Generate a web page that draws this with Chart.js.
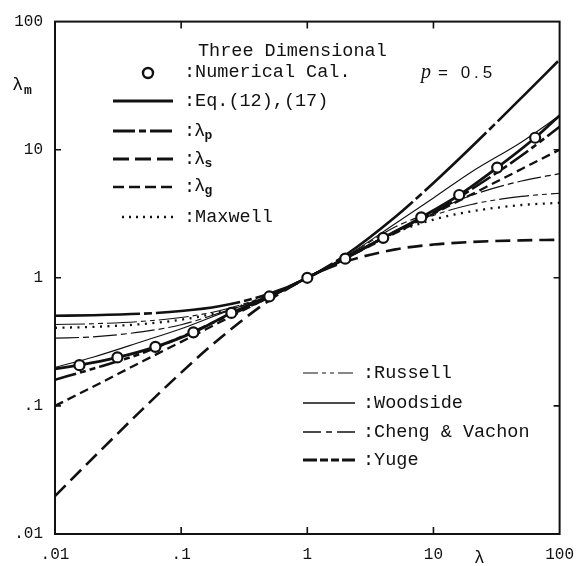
<!DOCTYPE html>
<html>
<head>
<meta charset="utf-8">
<script src="https://cdn.jsdelivr.net/npm/chart.js@4.4.1/dist/chart.umd.min.js"></script>
<style>
html,body{margin:0;padding:0;background:#fff;}
#wrap{width:585px;height:566px;position:relative;}
</style>
</head>
<body>
<div id="wrap"><canvas id="c" width="585" height="566"></canvas></div>
<script>
// ---- data ----
const lambda       = [0.01, 0.02, 0.05, 0.1, 0.2, 0.5, 1, 2, 5, 10, 20, 50, 100];
const lambdaP      = [0.505, 0.51, 0.525, 0.55, 0.6, 0.75, 1, 1.5, 3, 5.5, 10.5, 25.5, 50.5];
const lambdaS      = [0.0198, 0.0392, 0.0952, 0.182, 0.333, 0.667, 1, 1.333, 1.667, 1.818, 1.905, 1.961, 1.98];
const lambdaG      = [0.1, 0.141, 0.224, 0.316, 0.447, 0.707, 1, 1.414, 2.236, 3.162, 4.472, 7.071, 10];
const maxwell      = [0.407, 0.414, 0.436, 0.471, 0.538, 0.727, 1, 1.43, 2.25, 2.85, 3.3, 3.7, 3.85];
const russell      = [0.432, 0.438, 0.458, 0.49, 0.553, 0.733, 1, 1.44, 2.32, 3.07, 3.74, 4.32, 4.57];
const woodside     = [0.2, 0.24, 0.32, 0.4, 0.52, 0.73, 1, 1.46, 2.65, 4.2, 6.7, 11.5, 18.5];
const chengVachon  = [0.338, 0.346, 0.38, 0.43, 0.53, 0.72, 1, 1.45, 2.5, 3.3, 4.4, 5.7, 6.5];
const yuge         = [0.16, 0.195, 0.26, 0.345, 0.47, 0.705, 1, 1.42, 2.3, 3.2, 4.9, 9.0, 15.1];

const eqLambda     = [0.01, 0.015625, 0.03125, 0.0625, 0.125, 0.25, 0.5, 1, 2, 4, 8, 16, 32, 64, 100];
const eqValues     = [0.195, 0.208, 0.239, 0.289, 0.375, 0.532, 0.715, 1, 1.41, 2.05, 2.96, 4.43, 7.25, 12.4, 18.5];

const numLambda    = [0.015625, 0.03125, 0.0625, 0.125, 0.25, 0.5, 1, 2, 4, 8, 16, 32, 64];
const numValues    = [0.208, 0.239, 0.289, 0.375, 0.532, 0.715, 1, 1.41, 2.05, 2.96, 4.43, 7.25, 12.4];

const tickValues   = [0.01, 0.1, 1, 10, 100];
const xTickLabels  = ['.01', '.1', '1', '10', '100'];
const yTickLabels  = ['.01', '.1', '1', '10', '100'];

function pts(xs, ys) { return xs.map((x, i) => ({ x: x, y: ys[i] })); }

const INK = '#111';
function lineDs(label, ys, width, dash, xs) {
  return {
    label: label, data: pts(xs || lambda, ys), showLine: true,
    borderColor: INK, backgroundColor: INK, borderWidth: width, borderDash: dash,
    pointRadius: 0, cubicInterpolationMode: 'monotone', order: 2
  };
}

const datasets = [
  {
    label: 'Numerical Cal.', data: pts(numLambda, numValues), showLine: false,
    pointRadius: 5, pointBorderWidth: 2.2, pointBackgroundColor: '#fff', pointBorderColor: INK, order: 0
  },
  lineDs('Eq.(12),(17)', eqValues, 2.8, [], eqLambda),
  lineDs('λp', lambdaP, 2.6, [85, 4, 8, 4]),
  lineDs('λs', lambdaS, 2.6, [15, 7]),
  lineDs('λg', lambdaG, 2.3, [9, 5]),
  lineDs('Maxwell', maxwell, 2.3, [2, 5.5]),
  lineDs('Russell', russell, 1.1, [30, 4, 5, 4, 5, 4]),
  lineDs('Woodside', woodside, 1.1, []),
  lineDs('Cheng & Vachon', chengVachon, 1.2, [24, 4, 6, 4]),
  lineDs('Yuge', yuge, 2.6, [22, 4, 6, 4, 6, 4])
];

const MONO = '"Liberation Mono", "DejaVu Sans Mono", monospace';

function sample(ctx, x1, x2, y, w, dash) {
  ctx.save();
  ctx.strokeStyle = INK; ctx.lineWidth = w; ctx.setLineDash(dash);
  ctx.beginPath(); ctx.moveTo(x1, y); ctx.lineTo(x2, y); ctx.stroke();
  ctx.restore();
}
function txt(ctx, s, x, y, font) {
  ctx.font = font; ctx.fillText(s, x, y);
}
function sub(ctx, main, subs, x, y) {
  ctx.font = '19px ' + MONO; ctx.fillText(main, x, y);
  const w = ctx.measureText(main).width;
  ctx.font = 'bold 13px ' + MONO; ctx.fillText(subs, x + w - 1, y + 5);
}

const decor = {
  id: 'decor',
  afterDatasetsDraw(chart) {
    const ctx = chart.ctx, a = chart.chartArea;
    const xs = chart.scales.x, ys = chart.scales.y;
    ctx.save();
    // frame
    ctx.strokeStyle = INK; ctx.lineWidth = 2; ctx.setLineDash([]);
    ctx.strokeRect(a.left, a.top, a.right - a.left, a.bottom - a.top);
    // inward tick marks
    ctx.lineWidth = 1.6;
    tickValues.slice(1, -1).forEach(v => {
      const px = xs.getPixelForValue(v), py = ys.getPixelForValue(v);
      ctx.beginPath();
      ctx.moveTo(px, a.bottom); ctx.lineTo(px, a.bottom - 7);
      ctx.moveTo(px, a.top); ctx.lineTo(px, a.top + 7);
      ctx.moveTo(a.left, py); ctx.lineTo(a.left + 6, py);
      ctx.moveTo(a.right, py); ctx.lineTo(a.right - 6, py);
      ctx.stroke();
    });
    // legend (upper left)
    ctx.fillStyle = INK; ctx.textBaseline = 'middle'; ctx.textAlign = 'left';
    const f = '18.5px ' + MONO;
    txt(ctx, 'Three Dimensional', 198, 51, f);
    ctx.beginPath(); ctx.arc(148, 73, 5, 0, Math.PI * 2);
    ctx.fillStyle = '#fff'; ctx.fill(); ctx.lineWidth = 2.4; ctx.strokeStyle = INK; ctx.stroke();
    ctx.fillStyle = INK;
    txt(ctx, ':Numerical Cal.', 184, 72, f);
    sample(ctx, 113, 173, 101, 2.8, []);
    txt(ctx, ':Eq.(12),(17)', 184, 101, f);
    sample(ctx, 113, 173, 131, 2.8, [22, 4, 7, 4]);
    txt(ctx, ':', 184, 131, f); sub(ctx, 'λ', 'p', 194, 131);
    sample(ctx, 113, 173, 159, 2.8, [16, 6]);
    txt(ctx, ':', 184, 159, f); sub(ctx, 'λ', 's', 194, 159);
    sample(ctx, 113, 173, 187, 2.6, [11, 5]);
    txt(ctx, ':', 184, 187, f); sub(ctx, 'λ', 'g', 194, 186);
    sample(ctx, 122, 173, 217, 2.3, [2, 5]);
    txt(ctx, ':Maxwell', 184, 217, f);
    // p = 0.5
    ctx.font = 'italic 20px "Liberation Serif", serif'; ctx.fillText('p', 421, 73);
    ctx.font = '17px "Liberation Sans", sans-serif';
    try { ctx.letterSpacing = '4px'; } catch (e) {}
    ctx.fillText('= 0.5', 438, 73);
    try { ctx.letterSpacing = '0px'; } catch (e) {}
    // legend (lower right)
    sample(ctx, 303, 355, 373, 1.2, [15, 4, 4, 4, 4, 4]);
    txt(ctx, ':Russell', 363, 373, f);
    sample(ctx, 303, 355, 403, 1.3, []);
    txt(ctx, ':Woodside', 363, 403, f);
    sample(ctx, 303, 355, 432, 1.3, [18, 5, 6, 5]);
    txt(ctx, ':Cheng & Vachon', 363, 432, f);
    sample(ctx, 303, 355, 460, 2.8, [14, 3, 8, 3, 8, 3]);
    txt(ctx, ':Yuge', 363, 460, f);
    // axis titles
    ctx.font = '19px ' + MONO; ctx.fillText('λ', 12, 85);
    ctx.font = 'bold 13px ' + MONO; ctx.fillText('m', 24, 91);
    ctx.font = '18px ' + MONO; ctx.fillText('λ', 474, 558);
    ctx.restore();
  }
};

new Chart(document.getElementById('c'), {
  type: 'scatter',
  data: { datasets: datasets },
  options: {
    responsive: false, animation: false, events: [],
    layout: { padding: { top: 19, right: 19, left: 0, bottom: 0 } },
    plugins: { legend: { display: false }, tooltip: { enabled: false } },
    scales: {
      x: {
        type: 'logarithmic', min: 0.01, max: 100,
        afterBuildTicks: s => { s.ticks = tickValues.map(v => ({ value: v })); },
        afterFit: s => { s.height = 32; },
        grid: { display: false, drawTicks: false }, border: { display: false },
        ticks: {
          callback: (v, i) => xTickLabels[i], autoSkip: false, maxRotation: 0,
          padding: 11, color: INK, font: { family: MONO, size: 16 }
        }
      },
      y: {
        type: 'logarithmic', min: 0.01, max: 100,
        afterBuildTicks: s => { s.ticks = tickValues.map(v => ({ value: v })); },
        afterFit: s => { s.width = 55; },
        grid: { display: false, drawTicks: false }, border: { display: false },
        ticks: {
          callback: (v, i) => yTickLabels[i], autoSkip: false,
          padding: 12, color: INK, font: { family: MONO, size: 16 }
        }
      }
    }
  },
  plugins: [decor]
});
</script>
</body>
</html>
